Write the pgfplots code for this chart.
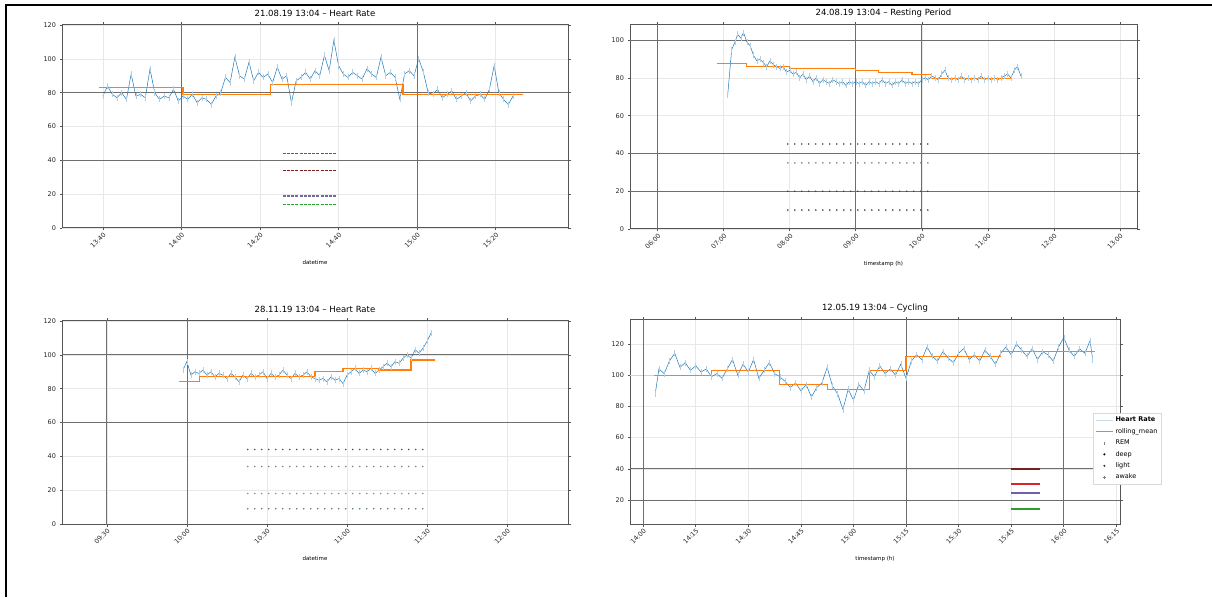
\documentclass[border=0pt]{standalone}
\usepackage{fontspec}
\setmainfont{DejaVu Sans}
\usepackage{pgfplots}
\pgfplotsset{compat=1.18}
\definecolor{tabblue}{HTML}{1F77B4}
\definecolor{taborange}{HTML}{FF7F0E}
\definecolor{tabred}{HTML}{D62728}
\definecolor{darkred}{HTML}{7A1F1F}
\definecolor{tabgreen}{HTML}{2CA02C}
\definecolor{tabpurple}{HTML}{6F5FA8}
\definecolor{spine}{HTML}{555555}
\pgfplotsset{
 panel/.style={scale only axis, anchor=south west,
   axis line style={spine, line width=1pt},
   tick style={spine, line width=0.6pt}, tick align=outside, major tick length=2.5pt,
   xmajorgrids, ymajorgrids, grid style={gray!18, line width=0.6pt},
   ticklabel style={font=\fontsize{6.5}{7}\selectfont, text=black!85},
   xticklabel style={rotate=45, anchor=north east, inner sep=1pt},
   /pgf/number format/assume math mode=true,
   title style={font=\fontsize{8.5}{9}\selectfont, at={(0.5,1)}, anchor=south, yshift=0pt, inner sep=2pt},
   xlabel style={font=\fontsize{5.5}{6}\selectfont, at={(axis description cs:0.5,0)}, anchor=north, yshift=-29pt},
   clip=true},
 hr/.style={tabblue, line width=0.5pt, mark=|, mark size=3pt, mark options={tabblue!35, line width=0.5pt}},
 rm/.style={taborange, line width=1.2pt, const plot, no markers},
 ref/.style={spine!85, line width=0.8pt, no markers},
 dots/.style={line width=1.8pt, line cap=round, dash pattern=on 0pt off 7pt, no markers},
 dash/.style={line width=1.3pt, dash pattern=on 3pt off 1.2pt, no markers},
}
\begin{document}
\begin{tikzpicture}
\path[use as bounding box] (0pt,0pt) rectangle (1212pt,597pt);
\draw[line width=2.5pt] (6pt,0pt) -- (6pt,592pt) -- (1212pt,592pt);

% ---------------- top left
\begin{axis}[panel, at={(62pt,369pt)}, width=506pt, height=203pt,
  xmin=-0.52, xmax=5.92, ymin=0, ymax=120, ytick={0,20,...,120},
  xtick={0,...,5}, xticklabels={13:40,14:00,14:20,14:40,15:00,15:20},
  title={21.08.19 13:04 -- Heart Rate}, xlabel={datetime}]
\addplot[ref] coordinates {(-1,80)(7,80)};
\addplot[ref] coordinates {(-1,40)(7,40)};
\addplot[ref] coordinates {(1,-5)(1,130)};
\addplot[ref] coordinates {(4,-5)(4,130)};
\addplot[dash, tabred] coordinates {(2.29,44)(2.98,44)};
\addplot[dash, darkred] coordinates {(2.29,34)(2.98,34)};
\addplot[dash, tabpurple!70!gray] coordinates {(2.29,19)(2.98,19)};
\addplot[dash, tabgreen] coordinates {(2.29,14)(2.98,14)};
\addplot[hr] coordinates {
(0.00,78)(0.06,84)(0.12,79)(0.18,77)(0.24,80)(0.30,76)(0.36,91)(0.42,78)(0.48,79)(0.54,77)
(0.60,94)(0.66,80)(0.72,76)(0.78,78)(0.84,77)(0.90,82)(0.96,75)(1.02,78)(1.08,76)(1.14,79)
(1.20,74)(1.26,77)(1.32,76)(1.38,73)(1.44,78)(1.50,80)(1.56,89)(1.62,86)(1.68,101)(1.74,90)
(1.80,88)(1.86,98)(1.92,87)(1.98,92)(2.04,89)(2.10,91)(2.16,86)(2.22,95)(2.28,88)(2.34,90)
(2.40,74)(2.46,87)(2.52,89)(2.58,92)(2.64,88)(2.70,93)(2.76,90)(2.82,102)(2.88,93)(2.94,111)
(3.00,96)(3.06,91)(3.12,89)(3.18,92)(3.24,90)(3.30,88)(3.36,94)(3.42,91)(3.48,89)(3.54,101)
(3.60,90)(3.66,92)(3.72,89)(3.78,76)(3.84,91)(3.90,93)(3.96,90)(4.02,100)(4.08,92)(4.14,80)
(4.20,79)(4.26,82)(4.32,77)(4.38,79)(4.44,81)(4.50,76)(4.56,78)(4.62,80)(4.68,75)(4.74,78)
(4.80,79)(4.86,76)(4.92,82)(4.98,96)(5.04,80)(5.10,76)(5.16,73)(5.22,78)};
\addplot[rm] coordinates {(-0.05,83)(1.02,79)(2.13,85)(3.82,79)(5.35,79)};
\end{axis}

% ---------------- top right
\begin{axis}[panel, at={(630pt,368pt)}, width=507pt, height=204pt,
  xmin=-0.42, xmax=7.26, ymin=0, ymax=108, ytick={0,20,...,100},
  xtick={0,...,7}, xticklabels={06:00,07:00,08:00,09:00,10:00,11:00,12:00,13:00},
  title={24.08.19 13:04 -- Resting Period}, xlabel={timestamp (h)}]
\addplot[ref] coordinates {(-1,100)(8,100)};
\addplot[ref] coordinates {(-1,40)(8,40)};
\addplot[ref] coordinates {(-1,20)(8,20)};
\addplot[ref] coordinates {(0,-5)(0,120)};
\addplot[ref] coordinates {(3,-5)(3,120)};
\addplot[ref] coordinates {(4,-5)(4,120)};
\addplot[dots, black!75] coordinates {(1.97,45)(4.12,45)};
\addplot[dots, black!55] coordinates {(1.97,35)(4.12,35)};
\addplot[dots, black!75] coordinates {(1.97,20)(4.12,20)};
\addplot[dots, black!75] coordinates {(1.97,10)(4.12,10)};
\addplot[hr] coordinates {
(1.06,71)(1.12,95)(1.17,99)(1.21,103)(1.26,101)(1.30,104)(1.35,99)(1.40,97)(1.45,92)(1.50,89)
(1.55,90)(1.60,88)(1.65,86)(1.70,89)(1.75,87)(1.80,86)(1.85,85)(1.90,86)(1.95,83)(2.00,84)
(2.05,82)(2.10,83)(2.15,80)(2.20,82)(2.25,79)(2.30,81)(2.35,78)(2.40,80)(2.45,77)(2.50,79)
(2.55,78)(2.60,77)(2.65,79)(2.70,78)(2.75,77)(2.80,78)(2.85,76)(2.90,78)(2.95,77)(3.00,78)
(3.05,77)(3.10,78)(3.15,76)(3.20,78)(3.25,77)(3.30,78)(3.35,77)(3.40,79)(3.45,77)(3.50,78)
(3.55,76)(3.60,78)(3.65,77)(3.70,79)(3.75,77)(3.80,78)(3.85,77)(3.90,78)(3.95,77)(4.00,79)
(4.05,80)(4.10,79)(4.15,81)(4.20,80)(4.25,79)(4.30,82)(4.35,84)(4.40,80)(4.45,79)(4.50,80)
(4.55,79)(4.60,81)(4.65,79)(4.70,80)(4.75,79)(4.80,80)(4.85,79)(4.90,81)(4.95,79)(5.00,80)
(5.05,79)(5.10,80)(5.15,79)(5.20,80)(5.25,81)(5.30,82)(5.35,80)(5.40,84)(5.45,86)(5.50,81)};
\addplot[rm] coordinates {(0.9,87.5)(1.35,86)(2.0,85)(3.0,84)(3.35,83)(3.85,82)(4.15,79.5)(5.35,79.5)};
\end{axis}

% ---------------- bottom left
\begin{axis}[panel, at={(62pt,73pt)}, width=506pt, height=203pt,
  xmin=-0.56, xmax=5.76, ymin=0, ymax=120, ytick={0,20,...,120},
  xtick={0,...,5}, xticklabels={09:30,10:00,10:30,11:00,11:30,12:00},
  title={28.11.19 13:04 -- Heart Rate}, xlabel={datetime}]
\addplot[ref] coordinates {(-1,100)(7,100)};
\addplot[ref] coordinates {(-1,60)(7,60)};
\addplot[ref] coordinates {(0,-5)(0,130)};
\addplot[ref] coordinates {(1,-5)(1,130)};
\addplot[dots, black!70] coordinates {(1.76,44)(3.95,44)};
\addplot[dots, black!50] coordinates {(1.76,34)(3.95,34)};
\addplot[dots, tabpurple!60!black!60] coordinates {(1.76,18)(3.95,18)};
\addplot[dots, tabgreen!40!black!70] coordinates {(1.76,9)(3.95,9)};
\addplot[hr] coordinates {
(0.95,91)(1.00,96)(1.05,88)(1.10,90)(1.15,89)(1.20,91)(1.25,88)(1.30,90)(1.35,87)(1.40,89)
(1.45,88)(1.50,86)(1.55,89)(1.60,87)(1.65,84)(1.70,88)(1.75,86)(1.80,89)(1.85,87)(1.90,88)
(1.95,90)(2.00,86)(2.05,89)(2.10,87)(2.15,88)(2.20,91)(2.25,88)(2.30,86)(2.35,89)(2.40,87)
(2.45,88)(2.50,90)(2.55,87)(2.60,86)(2.65,85)(2.70,86)(2.75,84)(2.80,87)(2.85,85)(2.90,86)
(2.95,83)(3.00,88)(3.05,90)(3.10,92)(3.15,89)(3.20,91)(3.25,90)(3.30,92)(3.35,89)(3.40,91)
(3.45,93)(3.50,95)(3.55,93)(3.60,96)(3.65,95)(3.70,98)(3.75,100)(3.80,98)(3.85,103)(3.90,101)
(3.95,104)(4.00,108)(4.05,113)};
\addplot[rm] coordinates {(0.9,84)(1.16,87)(2.6,90)(2.95,92)(3.4,91)(3.8,97)(4.1,97)};
\end{axis}

% ---------------- bottom right
\begin{axis}[panel, at={(630pt,73pt)}, width=490pt, height=204pt,
  xmin=-0.25, xmax=9.07, ymin=4.7, ymax=135.3, ytick={20,40,...,120},
  xtick={0,...,9}, xticklabels={14:00,14:15,14:30,14:45,15:00,15:15,15:30,15:45,16:00,16:15},
  title={12.05.19 13:04 -- Cycling},
  xlabel={timestamp (h)},
  legend style={at={(0.945,0.544)}, anchor=north west, font=\fontsize{6.5}{7}\selectfont,
    draw=gray!30, fill=white, row sep=1pt, inner sep=2pt}, legend cell align=left]
\addplot[gray!35, line width=0.8pt, forget plot] coordinates {(-1,100)(10,100)};
\addplot[ref, forget plot] coordinates {(-1,40)(10,40)};
\addplot[ref, forget plot] coordinates {(-1,20)(10,20)};
\addplot[ref, forget plot] coordinates {(0,0)(0,140)};
\addplot[ref, forget plot] coordinates {(5,0)(5,140)};
\addplot[ref, forget plot] coordinates {(8,0)(8,140)};
\addplot[darkred, line width=1.5pt, forget plot] coordinates {(7.0,40)(7.55,40)};
\addplot[tabred, line width=1.5pt, forget plot] coordinates {(7.0,30.4)(7.55,30.4)};
\addplot[tabpurple, line width=1.5pt, forget plot] coordinates {(7.0,24.6)(7.55,24.6)};
\addplot[tabgreen, line width=1.5pt, forget plot] coordinates {(7.0,14.4)(7.55,14.4)};
\addplot[hr, forget plot] coordinates {
(0.23,88)(0.30,104)(0.40,101)(0.50,109)(0.60,114)(0.70,105)(0.80,108)(0.90,103)(1.00,106)(1.10,102)
(1.20,104)(1.30,99)(1.40,101)(1.50,98)(1.60,104)(1.70,110)(1.80,100)(1.90,107)(2.00,102)(2.10,110)
(2.20,98)(2.30,103)(2.40,108)(2.50,101)(2.60,99)(2.70,96)(2.80,92)(2.90,95)(3.00,90)(3.10,94)
(3.20,86)(3.30,92)(3.40,95)(3.50,105)(3.60,93)(3.70,88)(3.80,78)(3.90,91)(4.00,84)(4.10,94)
(4.20,90)(4.30,103)(4.40,99)(4.50,106)(4.60,101)(4.70,104)(4.80,100)(4.90,107)(5.00,98)(5.10,109)
(5.20,113)(5.30,110)(5.40,118)(5.50,112)(5.60,109)(5.70,115)(5.80,111)(5.90,108)(6.00,114)(6.10,117)
(6.20,110)(6.30,113)(6.40,109)(6.50,116)(6.60,112)(6.70,107)(6.80,114)(6.90,118)(7.00,113)(7.10,120)
(7.20,116)(7.30,112)(7.40,117)(7.50,110)(7.60,115)(7.70,113)(7.80,109)(7.90,118)(8.00,124)(8.10,116)
(8.20,112)(8.30,117)(8.40,114)(8.50,122)(8.55,110)};
\addplot[rm, forget plot] coordinates {(0.2,100)(1.3,103)(2.6,94)(3.5,91)(4.3,103)(5.0,112)(6.8,115)(8.6,115)};
\addlegendimage{line legend, tabblue!25, line width=1pt}
\addlegendentry{\textbf{Heart Rate}}
\addlegendimage{line legend, taborange, line width=1.2pt}
\addlegendentry{rolling\_mean}
\addlegendimage{only marks, mark=|, mark size=1.5pt, gray}
\addlegendentry{REM}
\addlegendimage{only marks, mark=*, mark size=0.8pt, black}
\addlegendentry{deep}
\addlegendimage{only marks, mark=*, mark size=0.8pt, black!80}
\addlegendentry{light}
\addlegendimage{only marks, mark=+, mark size=1.5pt, gray}
\addlegendentry{awake}
\end{axis}
\end{tikzpicture}
\end{document}
